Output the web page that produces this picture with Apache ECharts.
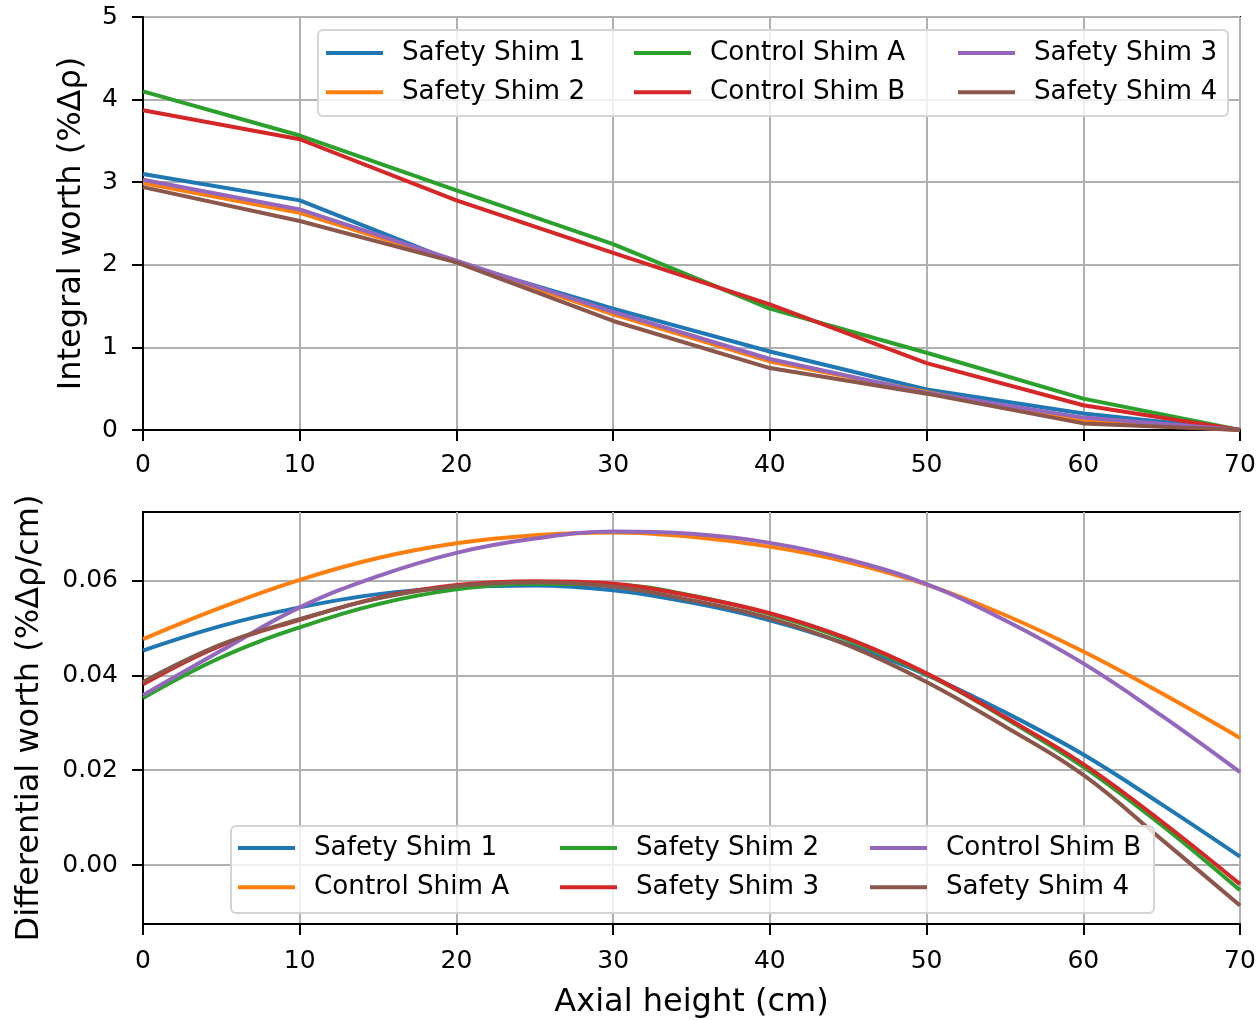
<!DOCTYPE html>
<html>
<head>
<meta charset="utf-8">
<script src="https://cdn.jsdelivr.net/npm/echarts@6/dist/echarts.min.js"></script>
<style>
  html, body { margin: 0; padding: 0; background: #fff; }
  #topChart { position: absolute; left: 0; top: 0; width: 1260px; height: 490px; }
  #botChart { position: absolute; left: 0; top: 490px; width: 1260px; height: 530px; }
</style>
</head>
<body>
<div id="topChart"></div>
<div id="botChart"></div>
<script>
// ---------- data ----------
const xIntegral = [0, 10, 20, 30, 40, 50, 60, 70];
const intSafety1  = [3.10, 2.78, 2.03, 1.47, 0.95, 0.49, 0.20, 0];
const intSafety2  = [2.99, 2.63, 2.04, 1.40, 0.83, 0.46, 0.11, 0];
const intControlA = [4.10, 3.565, 2.90, 2.25, 1.47, 0.935, 0.38, 0];
const intControlB = [3.87, 3.52, 2.78, 2.145, 1.52, 0.81, 0.30, 0];
const intSafety3  = [3.03, 2.67, 2.05, 1.43, 0.86, 0.45, 0.15, 0];
const intSafety4  = [2.94, 2.53, 2.03, 1.32, 0.75, 0.44, 0.08, 0];

const xDiff = [0, 5, 10, 15, 20, 25, 30, 35, 40, 45, 50, 55, 60, 65, 70];
const difSafety1  = [0.0452, 0.0504, 0.0543, 0.0571, 0.0585, 0.0589, 0.0579, 0.0553, 0.0516, 0.0465, 0.0401, 0.0322, 0.0233, 0.0128, 0.0018];
const difControlA = [0.0476, 0.0543, 0.0601, 0.0647, 0.0678, 0.0695, 0.0701, 0.0692, 0.0671, 0.0638, 0.0591, 0.0527, 0.0450, 0.0362, 0.0268];
const difSafety2  = [0.0352, 0.0438, 0.0501, 0.0550, 0.0581, 0.0593, 0.0591, 0.0568, 0.0529, 0.0474, 0.0402, 0.0310, 0.0207, 0.0084, -0.0053];
const difSafety3  = [0.0381, 0.0463, 0.0517, 0.0563, 0.0590, 0.0598, 0.0593, 0.0567, 0.0531, 0.0477, 0.0404, 0.0312, 0.0213, 0.0092, -0.0040];
const difControlB = [0.0358, 0.0452, 0.0543, 0.0609, 0.0658, 0.0688, 0.0703, 0.0698, 0.0679, 0.0644, 0.0592, 0.0516, 0.0425, 0.0315, 0.0196];
const difSafety4  = [0.0386, 0.0465, 0.0518, 0.0562, 0.0588, 0.0596, 0.0587, 0.0558, 0.0520, 0.0463, 0.0386, 0.0292, 0.0190, 0.0054, -0.0085];

const xTicks = [0, 10, 20, 30, 40, 50, 60, 70];
const yTopTicks = [0, 1, 2, 3, 4, 5];
const yBotTicks = [0.00, 0.02, 0.04, 0.06];

// ---------- style ----------
const FONT = 'DejaVu Sans';
const C = { blue: '#1f77b4', orange: '#ff7f0e', green: '#2ca02c', red: '#d62728', purple: '#9467bd', brown: '#8c564b' };
const zip = (xs, ys) => xs.map((x, i) => [x, ys[i]]);

function mkSeries(name, color, xs, ys, smooth) {
  return {
    type: 'line', name: name, data: zip(xs, ys), symbol: 'none', smooth: smooth,
    lineStyle: { color: color, width: 4 }, itemStyle: { color: color }, z: 2
  };
}

function xAxisCfg(withName, margin) {
  const a = {
    type: 'value', min: 0, max: 70, interval: 10,
    axisLine: { show: true, onZero: false, lineStyle: { color: '#000', width: 2 } },
    axisTick: { show: true, inside: false, length: 11, lineStyle: { color: '#000', width: 2 } },
    axisLabel: { fontFamily: FONT, fontSize: 25, color: '#000', margin: margin },
    splitLine: { show: true, lineStyle: { color: '#b0b0b0', width: 2 } }
  };
  if (withName) {
    a.name = 'Axial height (cm)';
    a.nameLocation = 'middle';
    a.nameGap = 63;
    a.nameTextStyle = { fontFamily: FONT, fontSize: 32, color: '#000' };
  }
  return a;
}

function legendCol(names, left, topPos) {
  return {
    orient: 'vertical', left: left, top: topPos, padding: 0,
    itemWidth: 57, itemHeight: 14, itemGap: 13.3,
    data: names.map(n => ({ name: n, icon: 'path://M0,0 L57,0 L57,4 L0,4 Z' })),
    textStyle: { fontFamily: FONT, fontSize: 26.2, color: '#000', lineHeight: 26, padding: [0, 0, 0, 14] },
    selectedMode: false
  };
}

function frame(x, y, w, h) {
  return {
    type: 'rect', left: x, top: y, z: 3,
    shape: { width: w, height: h, r: 5 },
    style: { fill: 'rgba(255,255,255,0.8)', stroke: '#d4d4d4', lineWidth: 2 }
  };
}

// ---------- top chart ----------
const chartTop = echarts.init(document.getElementById('topChart'), null, { renderer: 'canvas' });
chartTop.setOption({
  animation: false,
  backgroundColor: '#fff',
  grid: { left: 143, top: 17, width: 1097, height: 413, outerBoundsMode: 'none', containLabel: false,
          show: true, borderColor: '#000', borderWidth: 2, backgroundColor: 'transparent' },
  xAxis: xAxisCfg(false, 23),
  yAxis: {
    type: 'value', min: 0, max: 5, interval: 1,
    name: 'Integral worth (%Δρ)', nameLocation: 'middle', nameGap: 55,
    nameTextStyle: { fontFamily: FONT, fontSize: 32, color: '#000' },
    axisLine: { show: true, lineStyle: { color: '#000', width: 2 } },
    axisTick: { show: true, inside: false, length: 11, lineStyle: { color: '#000', width: 2 } },
    axisLabel: { fontFamily: FONT, fontSize: 25, color: '#000', margin: 25 },
    splitLine: { show: true, lineStyle: { color: '#b0b0b0', width: 2 } }
  },
  graphic: [frame(317, 29, 910, 86)],
  legend: [
    legendCol(['Safety Shim 1', 'Safety Shim 2'], 326, 40),
    legendCol(['Control Shim A', 'Control Shim B'], 634, 40),
    legendCol(['Safety Shim 3', 'Safety Shim 4'], 958, 40)
  ],
  series: [
    mkSeries('Safety Shim 1', C.blue, xIntegral, intSafety1, false),
    mkSeries('Safety Shim 2', C.orange, xIntegral, intSafety2, false),
    mkSeries('Control Shim A', C.green, xIntegral, intControlA, false),
    mkSeries('Control Shim B', C.red, xIntegral, intControlB, false),
    mkSeries('Safety Shim 3', C.purple, xIntegral, intSafety3, false),
    mkSeries('Safety Shim 4', C.brown, xIntegral, intSafety4, false)
  ]
});

// ---------- bottom chart ----------
const chartBot = echarts.init(document.getElementById('botChart'), null, { renderer: 'canvas' });
chartBot.setOption({
  animation: false,
  backgroundColor: '#fff',
  grid: { left: 143, top: 22, width: 1097, height: 412, outerBoundsMode: 'none', containLabel: false,
          show: true, borderColor: '#000', borderWidth: 2, backgroundColor: 'transparent' },
  xAxis: xAxisCfg(true, 25),
  yAxis: {
    type: 'value', min: -0.0124, max: 0.0744,
    name: 'Differential worth (%Δρ/cm)', nameLocation: 'middle', nameGap: 97,
    nameTextStyle: { fontFamily: FONT, fontSize: 32, color: '#000' },
    axisLine: { show: true, lineStyle: { color: '#000', width: 2 } },
    axisTick: { show: true, inside: false, length: 11, customValues: yBotTicks, lineStyle: { color: '#000', width: 2 } },
    axisLabel: { fontFamily: FONT, fontSize: 25, color: '#000', margin: 25, customValues: yBotTicks, formatter: v => v.toFixed(2) },
    splitLine: { show: true, lineStyle: { color: '#b0b0b0', width: 2 } }
  },
  graphic: [frame(230, 335, 923, 87)],
  legend: [
    legendCol(['Safety Shim 1', 'Control Shim A'], 238, 345),
    legendCol(['Safety Shim 2', 'Safety Shim 3'], 560, 345),
    legendCol(['Control Shim B', 'Safety Shim 4'], 870, 345)
  ],
  series: [
    mkSeries('Safety Shim 1', C.blue, xDiff, difSafety1, 0.4),
    mkSeries('Control Shim A', C.orange, xDiff, difControlA, 0.4),
    mkSeries('Safety Shim 2', C.green, xDiff, difSafety2, 0.4),
    mkSeries('Safety Shim 3', C.red, xDiff, difSafety3, 0.4),
    mkSeries('Control Shim B', C.purple, xDiff, difControlB, 0.4),
    mkSeries('Safety Shim 4', C.brown, xDiff, difSafety4, 0.4)
  ]
});
</script>
</body>
</html>
